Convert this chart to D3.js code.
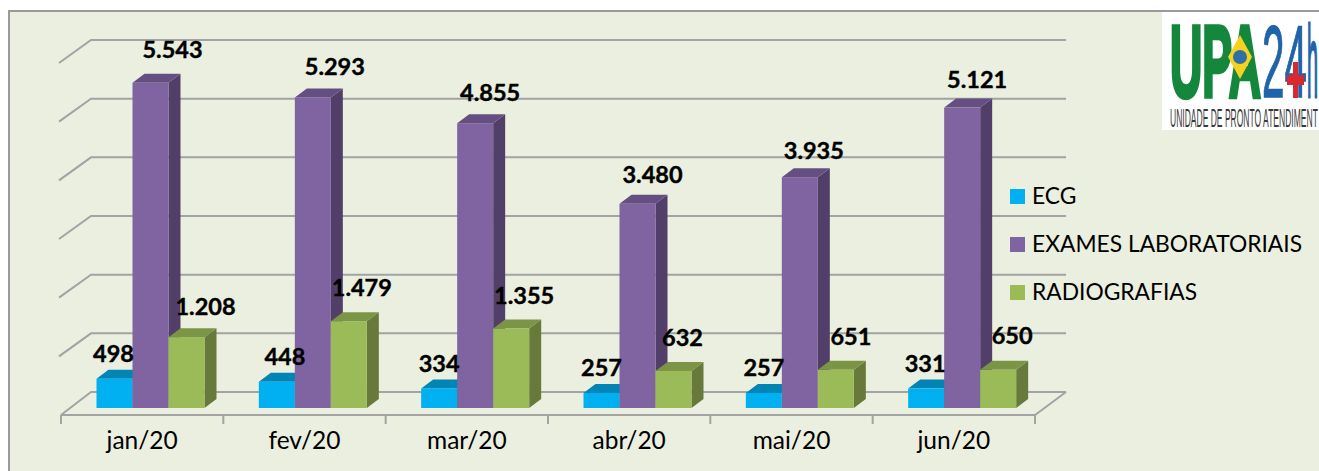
<!DOCTYPE html>
<html>
<head>
    <title>Exames por mês</title>
    <script src="https://cdn.jsdelivr.net/npm/d3@7/dist/d3.min.js"></script>
    <style>
    html, body { margin:0; padding:0; background:#fff; overflow:hidden; }
    svg { display:block; }
    text { font-family:Lato, "Open Sans", sans-serif; fill:#000; }
    </style>
</head>
<body>
<div class="svg-container"></div>
<script>

var months = ['jan/20', 'fev/20', 'mar/20', 'abr/20', 'mai/20', 'jun/20'];
var seriesNames = ['ECG', 'EXAMES LABORATORIAIS', 'RADIOGRAFIAS'];
var ecg = [498, 448, 334, 257, 257, 331];
var exames = [5543, 5293, 4855, 3480, 3935, 5121];
var radiografias = [1208, 1479, 1355, 632, 651, 650];
var yTicks = [0, 1000, 2000, 3000, 4000, 5000, 6000];

var width = 1319;
var height = 471;

// front, top and side colours per series
var colors = [
    ['#00B0F0', '#0085B5', '#00749E'],
    ['#8064A2', '#654F82', '#523F69'],
    ['#9BBB59', '#7B9446', '#677A3B']
];

// labels were moved by hand in the original, offsets from the bar top centre
var labelDx = [
    [-1, 8, 0, 0, 0, -1],
    [22, 22, 15, 15, 14, 15],
    [19, 13, 13, 9, 15, 14]
];
var labelDy = [
    [-25, -25, -25, -25, -25, -25],
    [-33, -31, -30, -29, -26, -28],
    [-30, -33, -33, -33, -33, -34]
];

var depthX = 12;
var depthY = 9;
var barW = 36;
var backX = 31;
var backY = 16;

var svg = d3.select('.svg-container').append('svg')
    .attr('width', width)
    .attr('height', height);

svg.append('rect')
    .attr('x', 9).attr('y', 11)
    .attr('width', width + 20).attr('height', height + 20)
    .attr('fill', '#EBEFDF')
    .attr('stroke', '#9A9A9A')
    .attr('stroke-width', 2);

var x = d3.scaleBand().domain(months).range([61, 1035]);
var y = d3.scaleLinear().domain([0, 6000]).range([408, 56]);
var series = d3.scaleBand().domain(seriesNames).range([35.5, 35.5 + 3 * barW]);

// gridlines on the back wall + left wall
var grid = svg.append('g')
    .attr('fill', 'none')
    .attr('stroke', '#A3A3A3')
    .attr('stroke-width', 2);

yTicks.forEach(function(t) {
    var gy = y(t) - backY;
    grid.append('path')
        .attr('d', 'M' + (61 - 2 * (t > 0)) + ',' + (gy + 23) + 'L' + (61 + backX - 1) + ',' + gy + 'H1066');
});

// floor
grid.append('path').attr('d', 'M61,415H1035L1066,' + (y(0) - backY));

// tick marks sit between the categories
var ticks = months.map(function(m) { return x(m); }).concat([x.range()[1]]);
grid.selectAll('line').data(ticks).enter().append('line')
    .attr('x1', function(d) { return d; })
    .attr('x2', function(d) { return d; })
    .attr('y1', 415)
    .attr('y2', 424);

// bars
var allValues = [ecg, exames, radiografias];
var bars = svg.append('g');

months.forEach(function(m, i) {
    allValues.forEach(function(values, s) {
        var x0 = x(m) + series(seriesNames[s]);
        var x1 = x0 + barW;
        var top = y(values[i]);
        var base = y(0);
        var c = colors[s];

        bars.append('path').attr('fill', c[2])
            .attr('d', 'M' + x1 + ',' + top + 'l' + depthX + ',' + (-depthY) + 'V' + (base - depthY) + 'L' + x1 + ',' + base + 'Z');
        bars.append('path').attr('fill', c[1])
            .attr('d', 'M' + x0 + ',' + top + 'l' + depthX + ',' + (-depthY) + 'h' + barW + 'l' + (-depthX) + ',' + depthY + 'Z');
        bars.append('rect').attr('fill', c[0])
            .attr('x', x0).attr('y', top)
            .attr('width', barW).attr('height', base - top);
    });
});

// value labels
var fmt = d3.format(',');
months.forEach(function(m, i) {
    allValues.forEach(function(values, s) {
        svg.append('text')
            .attr('x', x(m) + series(seriesNames[s]) + barW / 2 + labelDx[s][i])
            .attr('y', y(values[i]) + labelDy[s][i])
            .attr('dy', '0.35em')
            .attr('text-anchor', 'middle')
            .attr('font-size', 23.5)
            .attr('font-weight', 700)
            .style('stroke', '#000')
            .style('stroke-width', 0.4)
            .text(fmt(values[i]).replace(',', '.'));
    });
});

// category labels
var axis = svg.append('g')
    .attr('transform', 'translate(0,415)')
    .call(d3.axisBottom(x).tickSize(0).tickPadding(17));
axis.select('.domain').remove();
axis.selectAll('text')
    .attr('font-size', 24.5)
    .attr('font-family', 'Lato, "Open Sans", sans-serif')
    .attr('fill', '#000');

// legend
var legend = svg.append('g');
seriesNames.forEach(function(name, i) {
    legend.append('rect')
        .attr('x', 1010).attr('y', 189 + i * 48)
        .attr('width', 15).attr('height', 15)
        .attr('fill', colors[i][0]);
    legend.append('text')
        .attr('x', 1032).attr('y', 196 + i * 48)
        .attr('dy', '0.35em')
        .attr('font-size', 22.8)
        .text(name);
});

// logo, letters are stretched to fit so the boxes stay inside the white area
var logo = svg.append('g');
logo.append('rect')
    .attr('x', 1162).attr('y', 12)
    .attr('width', 157).attr('height', 118)
    .attr('fill', '#fff');

function logoText(str, lx, ly, size, len, sy, color, weight, thick) {
    var t = logo.append('text')
        .attr('font-size', size)
        .attr('font-weight', weight)
        .style('font-family', '"Liberation Sans Narrow", "Liberation Sans", sans-serif')
        .style('fill', color)
        .style('stroke', color)
        .style('stroke-width', thick)
        .style('vector-effect', 'non-scaling-stroke')
        .text(str);
    var sx = len / t.node().getComputedTextLength();
    t.attr('transform', 'translate(' + lx + ',' + ly + ') scale(' + sx + ',' + sy + ')');
}
logoText('UPA', 1170, 97, 40, 91, 2.55, '#14873C', 700, 3.5);
logoText('24', 1262, 97, 40, 45, 2.55, '#1F63A8', 400, 1);
logoText('h', 1307, 97, 40, 11, 2.55, '#1F63A8', 400, 2);
logoText('UNIDADE DE PRONTO ATENDIMENT', 1170, 127, 20, 148, 1.3, '#3A3A3A', 400, 0);

logo.append('path').attr('fill', '#F4D21F').attr('d', 'M1240,35L1252,57L1240,79L1228,57Z');
logo.append('circle').attr('cx', 1240).attr('cy', 57).attr('r', 7).attr('fill', '#2F6FA8');
logo.append('path').attr('fill', '#D9282F').attr('d', 'M1293,62h5v13h6v10h-6v13h-5v-13h-6v-10h6Z');

</script>
</body>
</html>
